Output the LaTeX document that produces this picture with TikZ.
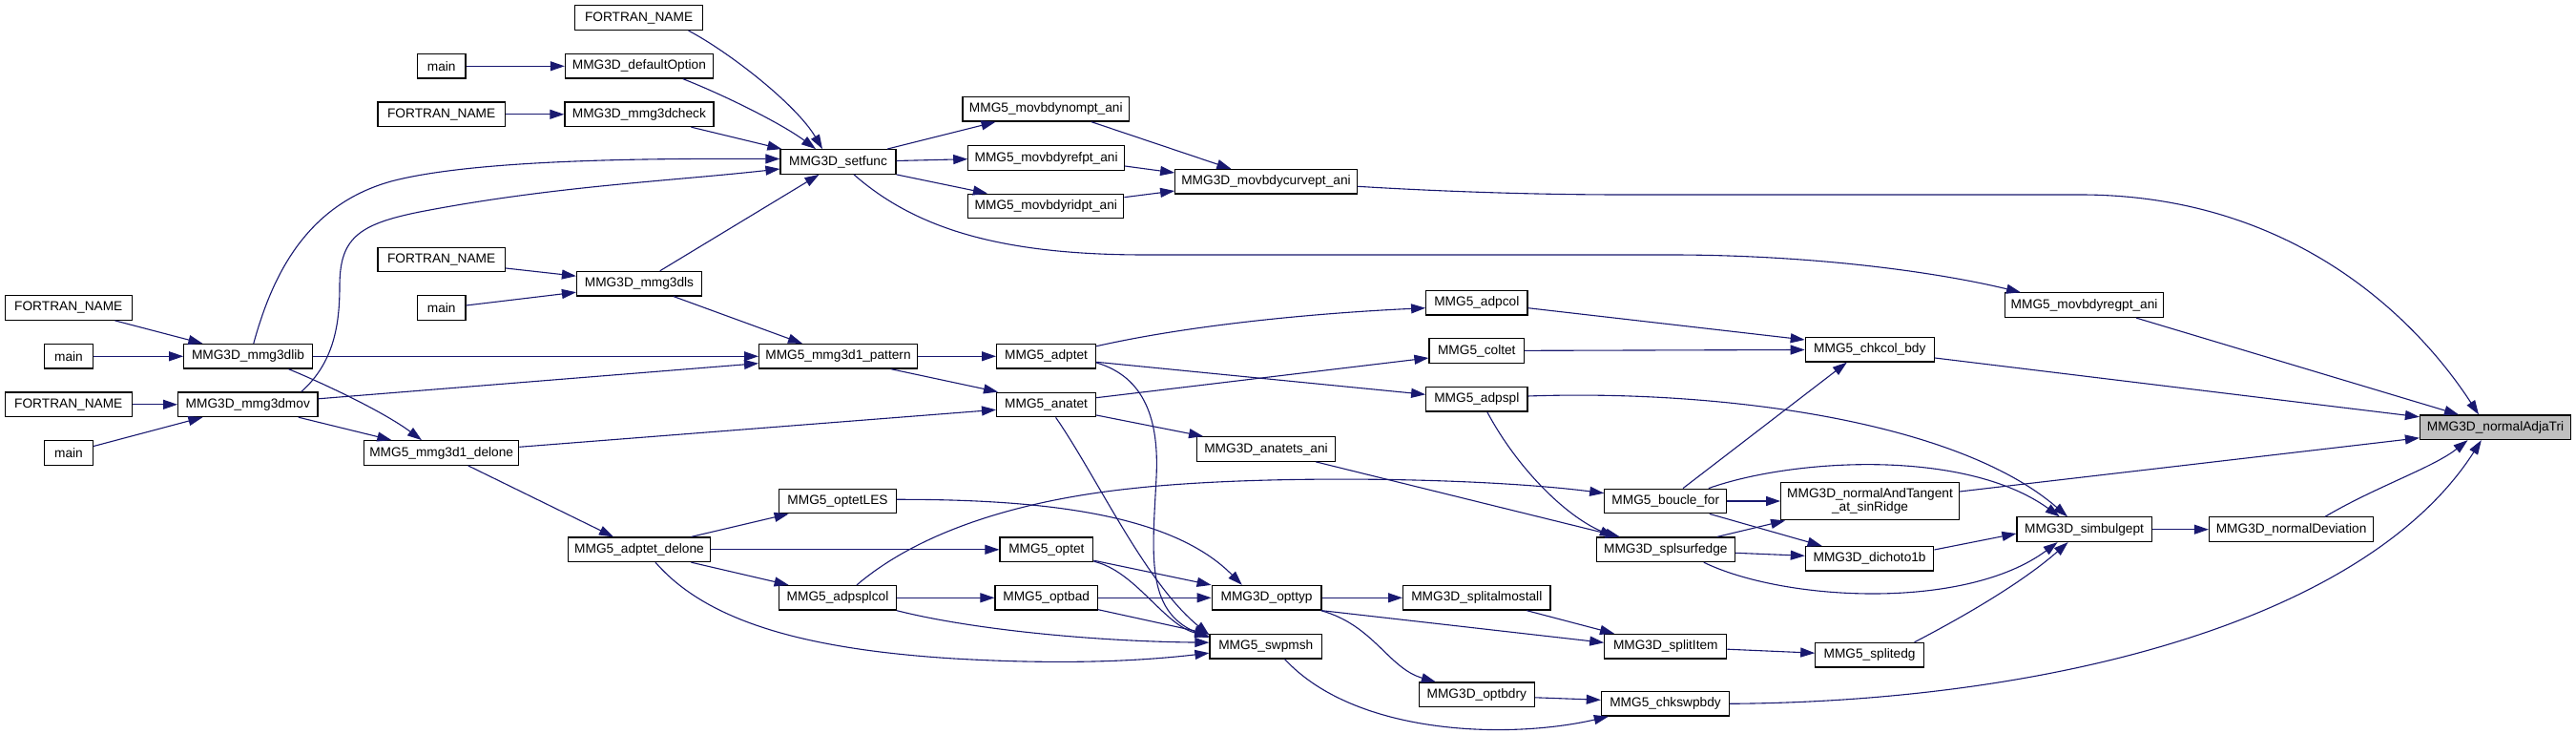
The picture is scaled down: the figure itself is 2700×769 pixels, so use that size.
\documentclass[tikz,border=0pt]{standalone}
\usepackage{fontspec}
\setmainfont{Liberation Sans}
\usetikzlibrary{arrows.meta,calc}
\definecolor{edgecol}{HTML}{191970}
\definecolor{adjagray}{HTML}{BFBFBF}
\begin{document}
\begin{tikzpicture}[x=0.5pt,y=-0.5pt,
  fn/.style={draw=black, fill=white, line width=0.6pt, font=\fontsize{6.85pt}{8pt}\selectfont, inner xsep=1pt, inner ysep=0pt, minimum height=12.8pt},
  edg/.style={draw=edgecol, line width=0.55pt, -{Triangle[length=7.5pt,width=5pt]}, fill=none}]
\useasboundingbox (0,0) rectangle (2700,769);
\fill[white] (0,0) rectangle (2700,769);
% nodes
\node[fn, minimum width=67pt] (f1) at (669.6,18.7) {FORTRAN\_NAME};
\node[fn, minimum width=25.3pt] (m1) at (462.7,69.3) {main};
\node[fn, minimum width=77.5pt] (defopt) at (669.9,69.3) {MMG3D\_defaultOption};
\node[fn, minimum width=66.7pt] (f2) at (462.7,119.8) {FORTRAN\_NAME};
\node[fn, minimum width=78pt] (check) at (669.9,119.8) {MMG3D\_mmg3dcheck};
\node[fn, minimum width=60.5pt] (setfunc) at (878.5,169.5) {MMG3D\_setfunc};
\node[fn, minimum width=66.7pt] (f3) at (462.7,272) {FORTRAN\_NAME};
\node[fn, minimum width=65.5pt] (ls) at (670,297.2) {MMG3D\_mmg3dls};
\node[fn, minimum width=25.3pt] (m3) at (462.7,322.5) {main};
\node[fn, minimum width=66.7pt] (f4) at (71.8,322.5) {FORTRAN\_NAME};
\node[fn, minimum width=25.5pt] (m4) at (72,373.3) {main};
\node[fn, minimum width=67.2pt] (lib) at (260,373.3) {MMG3D\_mmg3dlib};
\node[fn, minimum width=82.9pt] (pattern) at (878.5,373.3) {MMG5\_mmg3d1\_pattern};
\node[fn, minimum width=66.7pt] (f5) at (71.8,423.8) {FORTRAN\_NAME};
\node[fn, minimum width=73.2pt] (mov) at (259.8,423.8) {MMG3D\_mmg3dmov};
\node[fn, minimum width=25.5pt] (m5) at (72,474.5) {main};
\node[fn, minimum width=81pt] (delone) at (462.7,474.5) {MMG5\_mmg3d1\_delone};
\node[fn, minimum width=74.6pt] (adptetdel) at (670,575.8) {MMG5\_adptet\_delone};
\node[fn, minimum width=61.4pt] (optetles) at (878,525) {MMG5\_optetLES};
\node[fn, minimum width=61.4pt] (adpsplcol) at (878,626.3) {MMG5\_adpsplcol};
\node[fn, minimum width=87.3pt] (nompt) at (1096.3,114.3) {MMG5\_movbdynompt\_ani};
\node[fn, minimum width=81.8pt] (refpt) at (1096.6,165.5) {MMG5\_movbdyrefpt\_ani};
\node[fn, minimum width=81.5pt] (ridpt) at (1096.3,216) {MMG5\_movbdyridpt\_ani};
\node[fn, minimum width=95.3pt] (curvept) at (1327,190.3) {MMG3D\_movbdycurvept\_ani};
\node[fn, minimum width=53.1pt] (adpcol) at (1547.8,317.2) {MMG5\_adpcol};
\node[fn, minimum width=49.8pt] (coltet) at (1547.8,367.5) {MMG5\_coltet};
\node[fn, minimum width=52pt] (adptet) at (1096.6,373.3) {MMG5\_adptet};
\node[fn, minimum width=83.2pt] (regpt) at (2184.6,319.7) {MMG5\_movbdyregpt\_ani};
\node[fn, minimum width=67.5pt] (chkcol) at (1959.8,366.3) {MMG5\_chkcol\_bdy};
\node[fn, minimum width=52pt] (anatet) at (1096.6,424) {MMG5\_anatet};
\node[fn, minimum width=53.1pt] (adpspl) at (1547.8,418.3) {MMG5\_adpspl};
\node[fn, minimum width=72.3pt] (anatets) at (1327,470.5) {MMG3D\_anatets\_ani};
\node[fn, minimum width=64pt] (boucle) at (1745.8,525) {MMG5\_boucle\_for};
\node[fn, minimum width=72.6pt] (splsurf) at (1745.8,575.8) {MMG3D\_splsurfedge};
\node[fn, minimum width=48.9pt] (optet) at (1096.9,575.8) {MMG5\_optet};
\node[fn, minimum width=57.4pt] (opttyp) at (1327.6,626.3) {MMG3D\_opttyp};
\node[fn, minimum width=77.2pt] (almost) at (1547.8,626.3) {MMG3D\_splitalmostall};
\node[fn, minimum width=53.7pt] (optbad) at (1096.7,626.3) {MMG5\_optbad};
\node[fn, minimum width=58.8pt] (swpmsh) at (1326.8,677.2) {MMG5\_swpmsh};
\node[fn, minimum width=64pt] (splititem) at (1745.8,677.2) {MMG3D\_splitItem};
\node[fn, minimum width=60.6pt] (optbdry) at (1547.8,727.8) {MMG3D\_optbdry};
\node[fn, minimum width=67.1pt] (chkswp) at (1745.5,737.3) {MMG5\_chkswpbdy};
\node[fn, minimum width=93.3pt, minimum height=19.8pt, align=center, font=\fontsize{6.85pt}{6.6pt}\selectfont] (nat) at (1960,525) {MMG3D\_normalAndTangent\\\_at\_sinRidge};
\node[fn, minimum width=67.2pt] (dich) at (1959.6,585.3) {MMG3D\_dichoto1b};
\node[fn, minimum width=70.6pt] (simb) at (2184.6,554.7) {MMG3D\_simbulgept};
\node[fn, minimum width=86.1pt] (ndev) at (2401.6,554.7) {MMG3D\_normalDeviation};
\node[fn, minimum width=79pt, fill=adjagray] (adja) at (2615.5,447.8) {MMG3D\_normalAdjaTri};
\node[fn, minimum width=56.8pt] (splitedg) at (1959.6,686.2) {MMG5\_splitedg};
% edges
\draw[edg] ($(f1.south)+(52,0)$) .. controls (765,55) and (835,110) .. ($(setfunc.north)+(-16.5,0)$);
\draw[edg] (m1) -- (defopt);
\draw[edg] ($(defopt.south)+(46,0)$) .. controls (760,100) and (820,130) .. ($(setfunc.north)+(-23.5,0)$);
\draw[edg] (f2) -- (check);
\draw[edg] ($(check.south)+(54.6,0)$) -- ($(setfunc.north west)+(2,0)$);
\draw[edg] ($(lib.north)+(5.8,0)$) .. controls (285,290) and (320,215) .. (410,190) .. controls (500,166) and (700,166) .. ($(setfunc.west)+(0,-3)$);
\draw[edg] ($(mov.north)+(56,0)$) .. controls (350,380) and (356,340) .. (356,300) .. controls (356,250) and (375,235) .. (440,222) .. controls (580,195) and (700,190) .. ($(setfunc.west)+(0,7.5)$);
\draw[edg] ($(f3.east)+(0,9)$) -- ($(ls.west)+(0,-8)$);
\draw[edg] ($(m3.east)+(0,-2.5)$) -- ($(ls.west)+(0,9)$);
\draw[edg] ($(ls.north)+(21.7,0)$) -- ($(setfunc.south)+(-20,0)$);
\draw[edg] ($(ls.south)+(36,0)$) -- ($(pattern.north)+(-37.5,0)$);
\draw[edg] ($(f4.south)+(48.7,0)$) -- ($(lib.north)+(-47.6,0)$);
\draw[edg] (m4) -- (lib);
\draw[edg] (lib) -- (pattern);
\draw[edg] ($(lib.south)+(42.5,0)$) .. controls (335,400) and (400,430) .. ($(delone.north)+(-20.7,0)$);
\draw[edg] (f5) -- (mov);
\draw[edg] ($(m5.east)+(0,-7)$) -- ($(mov.south)+(-47.4,0)$);
\draw[edg] ($(mov.east)+(0,-6)$) -- ($(pattern.west)+(0,7.4)$);
\draw[edg] ($(mov.south)+(53,0)$) -- ($(delone.north)+(-52.3,0)$);
\draw[edg] ($(delone.east)+(0,-6.2)$) -- ($(anatet.west)+(0,5.3)$);
\draw[edg] ($(delone.south)+(28,0)$) -- ($(adptetdel.north)+(-27,0)$);
\draw[edg] (pattern) -- (adptet);
\draw[edg] ($(pattern.south)+(55.5,0)$) -- ($(anatet.north west)+(2,0)$);
\draw[edg] ($(adptetdel.north)+(54.5,0)$) -- ($(optetles.south)+(-51.4,0)$);
\draw[edg] (adptetdel) -- (optet);
\draw[edg] ($(adptetdel.south)+(54.5,0)$) -- ($(adpsplcol.north)+(-51.4,0)$);
\draw[edg] ($(adptetdel.south)+(17,0)$) .. controls (740,650) and (840,680) .. (1000,690) .. controls (1120,697) and (1200,692) .. ($(swpmsh.west)+(0,7)$);
\draw[edg] ($(adpsplcol.north)+(20,0)$) .. controls (960,560) and (1060,525) .. (1187,511.7) .. controls (1320,497) and (1550,500) .. ($(boucle.west)+(0,-8.3)$);
\draw[edg] (adpsplcol.south east) .. controls (1020,660) and (1150,672) .. ($(swpmsh.west)+(0,-4)$);
\draw[edg] (adpsplcol) -- (optbad);
\draw[edg] ($(optetles.east)+(0,-1.7)$) .. controls (1100,523) and (1230,540) .. ($(opttyp.north)+(-25.8,0)$);
\draw[edg] ($(optet.south east)+(0,-2)$) -- (opttyp.north west);
\draw[edg] ($(optet.south east)+(0,-1)$) .. controls (1190,598) and (1220,655) .. ($(swpmsh.west)+(0,-10.5)$);
\draw[edg] (optbad) -- (opttyp);
\draw[edg] ($(optbad.south east)+(0,-1)$) -- ($(swpmsh.west)+(0,-13)$);
\draw[edg] ($(adptet.east)+(0,6.7)$) .. controls (1200,395) and (1215,440) .. (1212,500) .. controls (1208,580) and (1200,640) .. ($(swpmsh.west)+(0,-9)$);
\draw[edg] ($(anatet.south)+(10,0)$) .. controls (1150,500) and (1200,610) .. ($(swpmsh.west)+(0,-12)$);
\draw[edg] ($(anatet.east)+(0,-7.3)$) -- ($(coltet.west)+(0,7.5)$);
\draw[edg] ($(adptet.east)+(0,6)$) -- ($(adpspl.west)+(0,-5)$);
\draw[edg] ($(adptet.east)+(0,-10.6)$) .. controls (1250,340) and (1380,328) .. ($(adpcol.west)+(0,5.5)$);
\draw[edg] ($(anatet.east)+(0,11)$) -- ($(anatets.north west)+(7,0)$);
\draw[edg] ($(anatets.south)+(52.3,0)$) -- ($(splsurf.north)+(-48,0)$);
\draw[edg] ($(adpspl.south)+(11,0)$) .. controls (1590,490) and (1640,540) .. ($(splsurf.north)+(-54,0)$);
\draw[edg] ($(adpspl.east)+(0,-3.3)$) .. controls (1800,408) and (2050,440) .. ($(simb.north)+(-17.6,0)$);
\draw[edg] ($(adpcol.east)+(0,5.5)$) -- ($(chkcol.west)+(0,-10.3)$);
\draw[edg] (coltet) -- (chkcol);
\draw[edg] ($(boucle.north)+(18.2,0)$) -- ($(chkcol.south)+(-24,0)$);
\draw[edg] (boucle) -- (nat);
\draw[edg] ($(boucle.north)+(45,0)$) .. controls (1880,480) and (2060,470) .. ($(simb.north)+(-25.8,0)$);
\draw[edg] ($(splsurf.north)+(54,0)$) -- ($(nat.south west)+(5,0)$);
\draw[edg] ($(boucle.south)+(46,0)$) -- ($(dich.north)+(-50,0)$);
\draw[edg] ($(splsurf.east)+(0,3.5)$) -- ($(dich.west)+(0,-3)$);
\draw[edg] ($(splsurf.south)+(40,0)$) .. controls (1870,630) and (2060,640) .. ($(simb.south)+(-28,0)$);
\draw[edg] ($(dich.east)+(0,-9.3)$) -- ($(simb.west)+(0,4.3)$);
\draw[edg] ($(splitedg.north)+(47,0)$) .. controls (2060,645) and (2120,610) .. ($(simb.south)+(-17,0)$);
\draw[edg] (simb) -- (ndev);
\draw[edg] ($(ndev.north)+(35.4,0)$) .. controls (2490,510) and (2550,490) .. ($(adja.south)+(-29,0)$);
\draw[edg] (chkswp.east) .. controls (2150,735) and (2480,650) .. ($(adja.south)+(-14.7,0)$);
\draw[edg] ($(nat.east)+(0,-10)$) -- ($(adja.west)+(0,11)$);
\draw[edg] ($(chkcol.east)+(0,8.7)$) -- ($(adja.west)+(0,-11)$);
\draw[edg] ($(regpt.south)+(54.4,0)$) -- ($(adja.north)+(-38.5,0)$);
\draw[edg] ($(curvept.east)+(0,5)$) .. controls (1500,200) and (1600,204) .. (1700,204) -- (2180,204) .. controls (2400,204) and (2530,330) .. ($(adja.north)+(-17.5,0)$);
\draw[edg] ($(setfunc.south)+(16.5,0)$) .. controls (960,240) and (1050,267) .. (1200,267) -- (1750,267) .. controls (1900,267) and (2030,285) .. ($(regpt.north)+(-66.6,0)$);
\draw[edg] ($(setfunc.north)+(51.5,0)$) -- ($(nompt.south)+(-52.8,0)$);
\draw[edg] ($(setfunc.east)+(0,-1)$) -- ($(refpt.west)+(0,1.2)$);
\draw[edg] (setfunc.south east) -- ($(ridpt.north)+(-61.4,0)$);
\draw[edg] ($(nompt.south)+(47.7,0)$) -- ($(curvept.north)+(-36.6,0)$);
\draw[edg] ($(refpt.east)+(0,8.5)$) -- ($(curvept.west)+(0,-9.3)$);
\draw[edg] ($(ridpt.east)+(0,-9.3)$) -- ($(curvept.west)+(0,9.7)$);
\draw[edg] (opttyp) -- (almost);
\draw[edg] (opttyp.south east) -- ($(splititem.west)+(0,-3.9)$);
\draw[edg] ($(opttyp.south east)+(-1,0)$) .. controls (1440,655) and (1455,700) .. ($(optbdry.north)+(-43,0)$);
\draw[edg] ($(almost.south)+(52.5,0)$) -- ($(splititem.north)+(-53.8,0)$);
\draw[edg] ($(optbdry.east)+(0,3)$) -- ($(chkswp.west)+(0,-4)$);
\draw[edg] ($(swpmsh.south)+(19.8,0)$) .. controls (1420,770) and (1580,775) .. ($(chkswp.south west)+(8,0)$);
\draw[edg] ($(splititem.east)+(0,3)$) -- ($(splitedg.west)+(0,-2)$);
\end{tikzpicture}
\end{document}
